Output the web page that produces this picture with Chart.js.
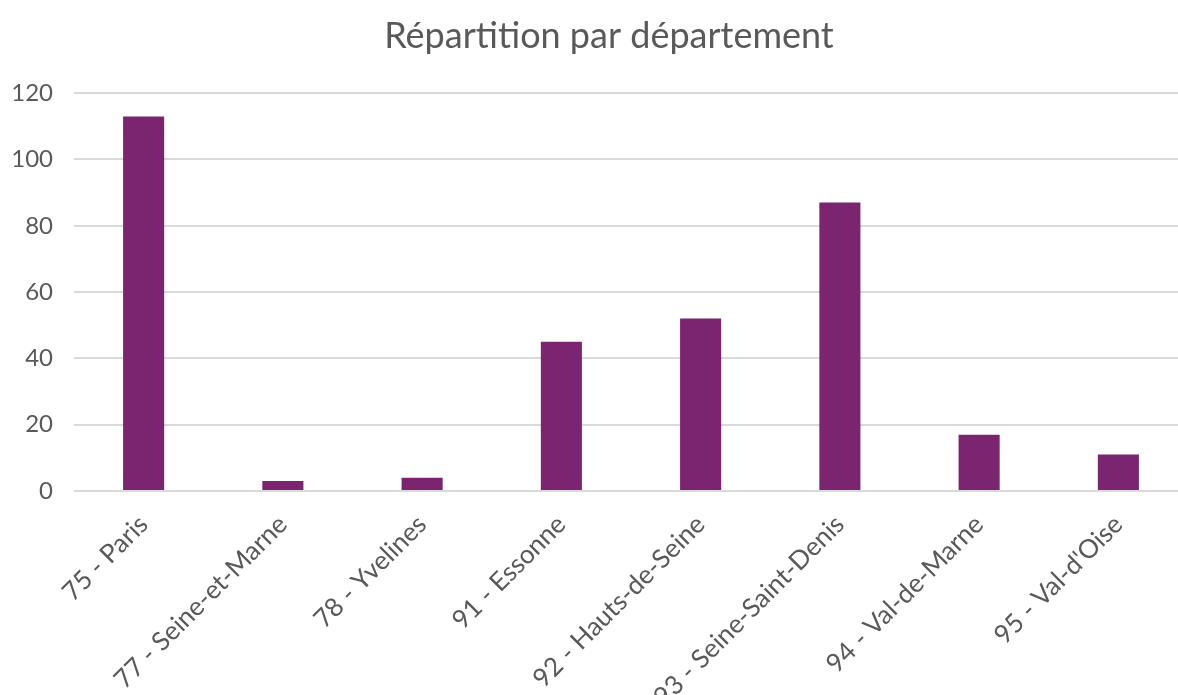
<!DOCTYPE html>
<html lang="fr">
<head>
<meta charset="utf-8">
<title>Répartition par département</title>
<script src="https://cdn.jsdelivr.net/npm/chart.js@4/dist/chart.umd.min.js"></script>
<style>
  html, body { margin: 0; padding: 0; background: #ffffff; overflow: hidden; width: 1178px; height: 695px; }
  #wrap { position: absolute; left: 0; top: 0; width: 1218px; height: 695px; }
</style>
</head>
<body>
<div id="wrap"><canvas id="chart"></canvas></div>
<script>
const chartTitle = "Répartition par département";
const categories = [
  "75 - Paris",
  "77 - Seine-et-Marne",
  "78 - Yvelines",
  "91 - Essonne",
  "92 - Hauts-de-Seine",
  "93 - Seine-Saint-Denis",
  "94 - Val-de-Marne",
  "95 - Val-d'Oise"
];
const values = [113, 3, 4, 45, 52, 87, 17, 11];
const yMin = 0;
const yMax = 120;
const yStep = 20;

const textColor = "#595959";
const gridColor = "#d9d9d9";
const barColor = "#7b2571";
const fontFamily = "Lato, 'Open Sans', sans-serif";

new Chart(document.getElementById("chart"), {
  type: "bar",
  data: {
    labels: categories,
    datasets: [{
      label: "Nombre",
      data: values,
      backgroundColor: barColor,
      borderWidth: 0,
      barPercentage: 0.295,
      categoryPercentage: 1.0,
      yAxisID: "y"
    }]
  },
  options: {
    responsive: true,
    maintainAspectRatio: false,
    devicePixelRatio: 1,
    animation: false,
    layout: { padding: { left: 0, right: 0, top: 0, bottom: 0 } },
    plugins: {
      legend: { display: false },
      tooltip: { enabled: false },
      title: {
        display: true,
        text: chartTitle,
        color: textColor,
        font: { family: fontFamily, size: 36, weight: "normal" },
        padding: { top: 15, bottom: 35 }
      }
    },
    scales: {
      x: {
        grid: { display: false },
        border: { display: false },
        ticks: {
          color: textColor,
          font: { family: fontFamily, size: 26 },
          minRotation: 45,
          maxRotation: 45,
          autoSkip: false,
          padding: 10
        },
        afterFit: (scale) => { scale.height = 204; }
      },
      y: {
        position: "left",
        min: yMin,
        max: yMax,
        border: { display: false },
        grid: { color: gridColor, lineWidth: 2, drawTicks: false },
        ticks: {
          stepSize: yStep,
          color: textColor,
          font: { family: fontFamily, size: 24 },
          padding: 21
        },
        afterFit: (scale) => { scale.width = 74; }
      },
      yRight: {
        position: "right",
        display: true,
        grid: { display: false, drawTicks: false },
        border: { display: false },
        ticks: { display: false },
        afterFit: (scale) => { scale.width = 30; }
      }
    }
  }
});
</script>
</body>
</html>
